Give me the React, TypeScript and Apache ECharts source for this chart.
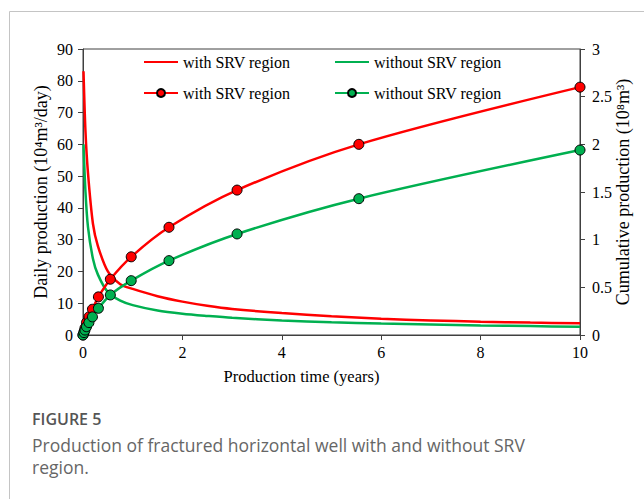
import React, { useEffect, useRef } from "react";
import * as echarts from "echarts";

// Daily production curves (10^4 m3/day) vs time (years)
const timeDaily = [0.01, 0.05, 0.1, 0.2, 0.3, 0.5, 0.75, 1, 1.5, 2, 2.5, 3, 4, 5, 6, 7, 8, 9, 10];
const dailyWithSRV = [83, 64, 51, 35, 28, 20, 16, 14.5, 12.2, 10.5, 9.2, 8.2, 6.9, 5.9, 5.1, 4.6, 4.2, 3.9, 3.7];
const dailyWithoutSRV = [60, 45, 34, 24, 19, 13.5, 10.8, 9.4, 7.7, 6.7, 6.0, 5.4, 4.6, 4.0, 3.6, 3.3, 3.0, 2.8, 2.6];

// Cumulative production (10^8 m3) vs time (years)
const timeCum = [0, 0.02, 0.04, 0.07, 0.12, 0.19, 0.31, 0.55, 0.97, 1.73, 3.1, 5.55, 10];
const cumWithSRV = [0, 0.035, 0.073, 0.13, 0.19, 0.27, 0.4, 0.585, 0.82, 1.13, 1.52, 2.0, 2.6];
const cumWithoutSRV = [0, 0.025, 0.052, 0.087, 0.13, 0.19, 0.28, 0.42, 0.57, 0.78, 1.06, 1.43, 1.94];

const seriesNames = ["with SRV region", "without SRV region", "with SRV region ", "without SRV region "];

const RED = "#ff0000";
const GREEN = "#00b050";
const SERIF = '"Liberation Serif", "Times New Roman", serif';
const AXIS = "#404040";

const pairs = (xs: number[], ys: number[]) => xs.map((x, i) => [x, ys[i]]);

export default function App() {
  const ref = useRef<HTMLDivElement>(null);
  useEffect(() => {
    if (!ref.current) return;
    const chart = echarts.init(ref.current, undefined, { renderer: "svg" });
    const legendBase = {
      itemWidth: 34,
      itemHeight: 10,
      itemGap: 0,
      padding: 0,
      textStyle: { fontFamily: SERIF, fontSize: 16, color: "#000" },
      formatter: (n: string) => n.trim(),
    };
    chart.setOption({
      animation: false,
      backgroundColor: "#fff",
      grid: {
        left: 83,
        right: 64,
        top: 49,
        bottom: 164,
        show: true,
        borderColor: AXIS,
        borderWidth: 1,
        backgroundColor: "transparent",
        outerBoundsMode: "none",
      },
      legend: [
        { ...legendBase, left: 143, top: 54, data: [seriesNames[0]], itemStyle: { opacity: 0 } },
        { ...legendBase, left: 334, top: 54, data: [seriesNames[1]], itemStyle: { opacity: 0 } },
        { ...legendBase, left: 143, top: 85, data: [seriesNames[2]] },
        { ...legendBase, left: 334, top: 85, data: [seriesNames[3]] },
      ],
      xAxis: {
        type: "value",
        min: 0,
        max: 10,
        interval: 2,
        name: "Production time (years)",
        nameLocation: "middle",
        nameGap: 33,
        nameMoveOverlap: false,
        nameTextStyle: { fontFamily: SERIF, fontSize: 16.5, color: "#000", padding: [0, 60, 0, 0] },
        axisLine: { lineStyle: { color: AXIS } },
        axisTick: { show: true, length: 5, lineStyle: { color: AXIS } },
        axisLabel: { fontFamily: SERIF, fontSize: 16, color: "#000", margin: 9 },
        splitLine: { show: false },
      },
      yAxis: [
        {
          type: "value",
          min: 0,
          max: 90,
          interval: 10,
          position: "left",
          name: "Daily production (10\u2074m\u00b3/day)",
          nameLocation: "middle",
          nameRotate: 90,
          nameGap: 33,
          nameMoveOverlap: false,
          nameTextStyle: { fontFamily: SERIF, fontSize: 18, color: "#000" },
          axisLine: { show: true, lineStyle: { color: AXIS } },
          axisTick: { show: true, length: 5, lineStyle: { color: AXIS } },
          axisLabel: { fontFamily: SERIF, fontSize: 16, color: "#000", margin: 10 },
          splitLine: { show: false },
        },
        {
          type: "value",
          min: 0,
          max: 3,
          interval: 0.5,
          position: "right",
          name: "Cumulative production (10\u2078m\u00b3)",
          nameLocation: "middle",
          nameRotate: 90,
          nameGap: 34,
          nameMoveOverlap: false,
          nameTextStyle: { fontFamily: SERIF, fontSize: 18, color: "#000" },
          axisLine: { show: true, lineStyle: { color: AXIS } },
          axisTick: { show: true, length: 5, lineStyle: { color: AXIS } },
          axisLabel: { fontFamily: SERIF, fontSize: 16, color: "#000", margin: 12 },
          splitLine: { show: false },
        },
      ],
      series: [
        {
          name: seriesNames[0],
          type: "line",
          yAxisIndex: 0,
          data: pairs(timeDaily, dailyWithSRV),
          smooth: 0.3,
          symbol: "none",
          lineStyle: { color: RED, width: 2.5 },
          itemStyle: { color: RED },
        },
        {
          name: seriesNames[1],
          type: "line",
          yAxisIndex: 0,
          data: pairs(timeDaily, dailyWithoutSRV),
          smooth: 0.3,
          symbol: "none",
          lineStyle: { color: GREEN, width: 2.5 },
          itemStyle: { color: GREEN },
        },
        {
          name: seriesNames[2],
          type: "line",
          yAxisIndex: 1,
          data: pairs(timeCum, cumWithSRV),
          smooth: 0.3,
          symbol: "circle",
          symbolSize: 10,
          showAllSymbol: true,
          lineStyle: { color: RED, width: 2.5 },
          itemStyle: { color: RED, borderColor: "#000", borderWidth: 1 },
        },
        {
          name: seriesNames[3],
          type: "line",
          yAxisIndex: 1,
          data: pairs(timeCum, cumWithoutSRV),
          smooth: 0.3,
          symbol: "circle",
          symbolSize: 10,
          showAllSymbol: true,
          lineStyle: { color: GREEN, width: 2.5 },
          itemStyle: { color: GREEN, borderColor: "#000", borderWidth: 1 },
        },
      ],
      graphic: [
        { type: "line", shape: { x1: 9.5, y1: 11.5, x2: 644, y2: 11.5 }, style: { stroke: "#c4c4c4", lineWidth: 1 } },
        { type: "line", shape: { x1: 9.5, y1: 11.5, x2: 9.5, y2: 499 }, style: { stroke: "#c4c4c4", lineWidth: 1 } },
        {
          type: "text",
          left: 32,
          top: 411,
          style: { text: "FIGURE 5", font: '600 16px "Open Sans"', fill: "#555" },
        },
        {
          type: "text",
          left: 32,
          top: 436,
          style: {
            text: "Production of fractured horizontal well with and without SRV",
            font: '17.5px "Open Sans"',
            fill: "#666",
          },
        },
        {
          type: "text",
          left: 32,
          top: 458,
          style: { text: "region.", font: '17.5px "Open Sans"', fill: "#666" },
        },
      ],
    });
    return () => chart.dispose();
  }, []);
  return (
    <div
      ref={ref}
      style={{ position: "fixed", left: 0, top: 0, width: 644, height: 499, background: "#fff" }}
    />
  );
}
